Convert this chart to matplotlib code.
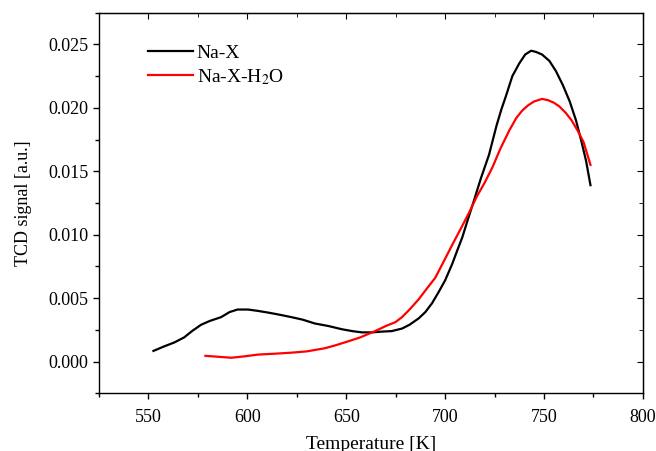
import numpy as np
import matplotlib
matplotlib.use('Agg')
import matplotlib.pyplot as plt
from matplotlib.ticker import MultipleLocator

# Na-X curve (temperature K, TCD signal)
nax_t = [552.5, 558, 563, 568, 572, 576.6, 581, 586.7, 591, 595, 600.3, 605, 610.5,
         616, 622.3, 628, 634.1, 641, 647.7, 653, 657.8, 663, 668, 673, 678.2, 682,
         686.6, 690, 693.4, 696.8, 700, 703.6, 706, 708.7, 711.5, 714.6, 718, 722.2,
         726, 728.5, 730.7, 734, 737.5, 740.5, 743.5, 746, 749, 752.7, 756, 759.5,
         763, 766.2, 769, 771.3, 773.5]
nax_s = [0.00084, 0.0012, 0.0015, 0.0019, 0.0024, 0.0029, 0.0032, 0.0035, 0.0039,
         0.0041, 0.0041, 0.0040, 0.00386, 0.0037, 0.0035, 0.0033, 0.0030, 0.0028,
         0.00255, 0.0024, 0.0023, 0.0023, 0.00236, 0.0024, 0.0026, 0.0029, 0.0034,
         0.0039, 0.0046, 0.0055, 0.0064, 0.0077, 0.0087, 0.0098, 0.0112, 0.0127,
         0.0144, 0.0163, 0.0186, 0.0199, 0.0209, 0.0225, 0.0235, 0.0242, 0.0245,
         0.0244, 0.0242, 0.0237, 0.0229, 0.0218, 0.0205, 0.0190, 0.0173, 0.0158,
         0.0139]

# Na-X-H2O curve
h2o_t = [578.8, 585, 591.8, 598, 605.4, 614, 622.3, 630, 639.2, 645, 651.1, 657,
         664.6, 670, 674.8, 678.2, 682, 686.6, 690.5, 695, 699, 703.6, 708, 712, 716,
         720, 723.9, 728, 732.4, 736, 739.1, 742, 745, 749, 752, 755, 757.8, 761,
         764, 767, 770, 773.5]
h2o_s = [0.00045, 0.00038, 0.0003, 0.0004, 0.00055, 0.00062, 0.0007, 0.0008, 0.00105,
         0.0013, 0.0016, 0.0019, 0.0024, 0.0028, 0.0031, 0.0035, 0.0041, 0.0049,
         0.0057, 0.0066, 0.0078, 0.0092, 0.0105, 0.0117, 0.0130, 0.0141, 0.0153,
         0.0168, 0.0182, 0.0192, 0.0198, 0.0202, 0.0205, 0.0207, 0.0206, 0.0204,
         0.0201, 0.0196, 0.0190, 0.0182, 0.0173, 0.0155]

plt.rcParams['font.family'] = ['Liberation Serif', 'DejaVu Serif']
plt.rcParams['mathtext.fontset'] = 'stix'

fig = plt.figure(figsize=(6.56, 4.51), dpi=100)
ax = fig.add_axes([0.151, 0.128, 0.829, 0.844])

ax.plot(nax_t, nax_s, color='black', lw=1.6, label='Na-X')
ax.plot(h2o_t, h2o_s, color='red', lw=1.6, label='Na-X-H$_2$O')

ax.set_xlim(525, 800)
ax.set_ylim(-0.0025, 0.0275)
ax.xaxis.set_major_locator(MultipleLocator(50))
ax.xaxis.set_minor_locator(MultipleLocator(25))
ax.yaxis.set_major_locator(MultipleLocator(0.005))
ax.yaxis.set_minor_locator(MultipleLocator(0.0025))
ax.yaxis.set_major_formatter(matplotlib.ticker.FormatStrFormatter('%.3f'))
ax.tick_params(which='both', direction='out', labelsize=13, width=1.0)
ax.tick_params(which='major', length=4.5, pad=3)
ax.tick_params(which='minor', length=3)
ax.tick_params(axis='x', which='major', pad=7)

# mirrored ticks pointing inward on top and right
top = ax.secondary_xaxis('top')
top.xaxis.set_major_locator(MultipleLocator(50))
top.xaxis.set_minor_locator(MultipleLocator(25))
top.tick_params(which='both', direction='in', labeltop=False)
top.tick_params(which='major', length=4.5)
top.tick_params(which='minor', length=3)
right = ax.secondary_yaxis('right')
right.yaxis.set_major_locator(MultipleLocator(0.005))
right.yaxis.set_minor_locator(MultipleLocator(0.0025))
right.tick_params(which='both', direction='in', labelright=False)
right.tick_params(which='major', length=4.5)
right.tick_params(which='minor', length=3)

for s in ax.spines.values():
    s.set_linewidth(1.0)

ax.set_xlabel('Temperature [K]', fontsize=14, labelpad=7)
ax.set_ylabel('TCD signal [a.u.]', fontsize=13, labelpad=12)

ax.legend(loc='upper left', frameon=False, fontsize=14, handlelength=2.3,
          handletextpad=0.2, labelspacing=0.25, bbox_to_anchor=(0.058, 0.962))

fig.savefig('out.png', dpi=100)
